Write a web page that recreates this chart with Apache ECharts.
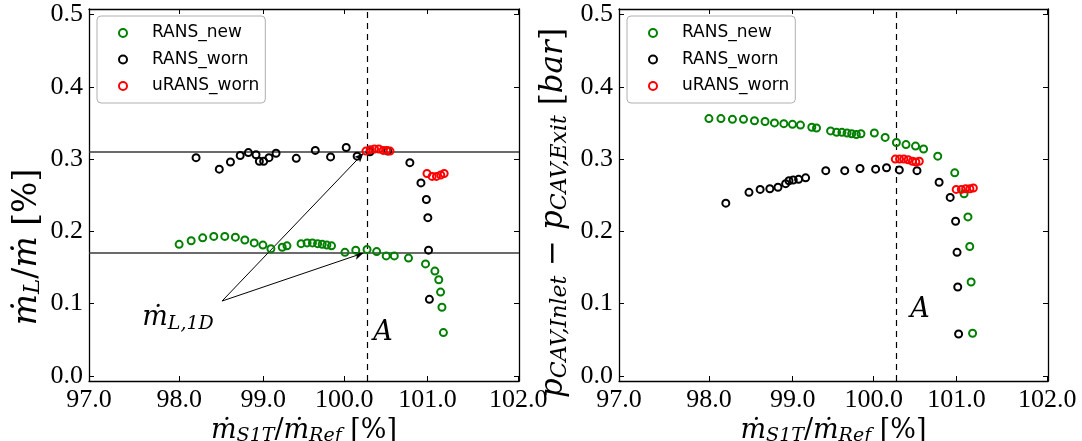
<!DOCTYPE html>
<html>
<head>
<meta charset="utf-8">
<script src="https://cdn.jsdelivr.net/npm/echarts@6/dist/echarts.min.js"></script>
<style>html,body{margin:0;padding:0;background:#fff}#c{width:1082px;height:441px}</style>
</head>
<body>
<div id="c"></div>
<script>
// ---- data ----
const seriesNames = ['RANS_new', 'RANS_worn', 'uRANS_worn'];
const xTickPos = [97.0, 98.05, 99.025, 99.968, 100.935, 101.99];
const xTickLabels = ['97.0', '98.0', '99.0', '100.0', '101.0', '102.0'];
const yTicks = [0.0, 0.1, 0.2, 0.3, 0.4, 0.5];

const greenX = [98.048, 98.188, 98.322, 98.451, 98.579, 98.702, 98.812, 98.921, 99.022, 99.115, 99.247, 99.302, 99.466, 99.536, 99.598, 99.658, 99.712, 99.766, 99.82, 99.976, 100.102, 100.233, 100.345, 100.456, 100.55, 100.715, 100.913, 101.022, 101.067, 101.088, 101.104, 101.121];
const greenLeak = [0.182, 0.187, 0.191, 0.193, 0.193, 0.192, 0.188, 0.184, 0.181, 0.176, 0.178, 0.180, 0.183, 0.184, 0.184, 0.183, 0.182, 0.181, 0.180, 0.171, 0.174, 0.175, 0.172, 0.166, 0.166, 0.163, 0.155, 0.145, 0.133, 0.116, 0.095, 0.060];
const greenDp = [0.356, 0.356, 0.355, 0.355, 0.353, 0.352, 0.350, 0.349, 0.348, 0.347, 0.344, 0.343, 0.339, 0.337, 0.337, 0.336, 0.335, 0.334, 0.335, 0.336, 0.330, 0.323, 0.320, 0.318, 0.314, 0.304, 0.281, 0.252, 0.220, 0.179, 0.130, 0.059];

const blackX = [98.245, 98.515, 98.645, 98.758, 98.853, 98.942, 98.981, 99.031, 99.093, 99.175, 99.41, 99.631, 99.809, 99.991, 100.118, 100.267, 100.473, 100.731, 100.86, 100.923, 100.94, 100.948, 100.958];
const blackLeak = [0.302, 0.286, 0.296, 0.305, 0.309, 0.306, 0.297, 0.297, 0.302, 0.308, 0.301, 0.312, 0.303, 0.316, 0.304, 0.310, 0.311, 0.295, 0.267, 0.244, 0.219, 0.174, 0.106];
const blackDp = [0.239, 0.254, 0.258, 0.259, 0.261, 0.266, 0.270, 0.271, 0.272, 0.274, 0.284, 0.284, 0.287, 0.286, 0.288, 0.285, 0.284, 0.268, 0.247, 0.214, 0.171, 0.123, 0.058];

const redX = [100.22, 100.27, 100.32, 100.37, 100.42, 100.46, 100.50, 100.93, 100.99, 101.04, 101.09, 101.13];
const redLeak = [0.311, 0.313, 0.314, 0.314, 0.312, 0.312, 0.311, 0.280, 0.276, 0.276, 0.278, 0.280];
const redDp = [0.300, 0.300, 0.300, 0.299, 0.297, 0.296, 0.297, 0.258, 0.258, 0.259, 0.259, 0.260];

const leak1D = [0.308, 0.170];          // horizontal reference lines (left)
const pointA = 100.233;                 // dashed vertical line "A"
const arrowFrom = [98.547, 0.1036];
const arrowTo = [[100.19, 0.308], [100.19, 0.170]];
const labelLeak1D = [98.035, 0.080];
const labelA_left = [100.419, 0.059];
const labelA_right = [100.508, 0.091];

// ---- styles ----
const colors = {RANS_new: '#008000', RANS_worn: '#000000', uRANS_worn: '#ff0000'};
const tickFont = 'Liberation Serif';
const mathFont = 'DejaVu Serif';
const xMin = 97, xMax = 102, yMin = -0.007, yMax = 0.5076;

function richMath(main, sub, subPad) {
  return {
    i: {fontFamily: mathFont, fontStyle: 'italic', fontSize: main, color: '#000'},
    n: {fontFamily: mathFont, fontSize: main, color: '#000'},
    s: {fontFamily: mathFont, fontStyle: 'italic', fontSize: sub, color: '#000', padding: [subPad, 0, 0, 0]}
  };
}

function xAxisCfg(gi, pos, withLabel) {
  return {
    type: 'value', gridIndex: gi, position: pos, min: xMin, max: xMax,
    axisLine: {show: true, onZero: false, lineStyle: {color: '#000', width: 1.3}},
    axisTick: {show: true, inside: true, length: 5, customValues: xTickPos, lineStyle: {color: '#000', width: 1}},
    axisLabel: {
      show: withLabel, customValues: xTickPos, margin: 6,
      fontFamily: tickFont, fontSize: 26, color: '#000',
      formatter: v => { const i = xTickPos.findIndex(p => Math.abs(p - v) < 1e-6); return i >= 0 ? xTickLabels[i] : ''; }
    },
    splitLine: {show: false},
    name: withLabel ? '{i|ṁ}{s|S1T}{n|/}{i|ṁ}{s|Ref}{n| [%]}' : '',
    nameLocation: 'middle', nameGap: 30,
    nameTextStyle: {rich: richMath(27, 19, 10)}
  };
}
function yAxisCfg(gi, pos, withLabel, name, nameGap, namePad, fs, sfs) {
  return {
    type: 'value', gridIndex: gi, position: pos, min: yMin, max: yMax,
    axisLine: {show: true, onZero: false, lineStyle: {color: '#000', width: 1.3}},
    axisTick: {show: true, inside: true, length: 5, customValues: yTicks, lineStyle: {color: '#000', width: 1}},
    axisLabel: {
      show: withLabel, customValues: yTicks, margin: 6,
      fontFamily: tickFont, fontSize: 26, color: '#000',
      formatter: v => v.toFixed(1)
    },
    splitLine: {show: false},
    name: withLabel ? name : '',
    nameLocation: 'middle', nameGap: nameGap,
    nameTextStyle: {rich: richMath(fs || 28, sfs || 20, 12), padding: namePad}
  };
}

function scatter(name, xs, ys, gi) {
  return {
    type: 'scatter', name: name, xAxisIndex: gi, yAxisIndex: gi,
    data: xs.map((x, k) => [x, ys[k]]),
    symbol: 'circle', symbolSize: 7, z: 5,
    itemStyle: {color: 'rgba(0,0,0,0)', borderColor: colors[name], borderWidth: 2, opacity: 1},
    emphasis: {disabled: true}, animation: false
  };
}

function legendCfg(left) {
  return {
    left: left, top: 16, orient: 'vertical', icon: 'circle',
    itemWidth: 8, itemHeight: 8, itemGap: 6.5,
    padding: [7, 6, 7, 21],
    borderColor: '#b0b0b0', borderWidth: 1, borderRadius: 4, backgroundColor: '#fff',
    selectedMode: false,
    data: seriesNames.map(n => ({name: n, itemStyle: {color: 'rgba(0,0,0,0)', borderColor: colors[n], borderWidth: 2}})),
    formatter: n => '{g| }' + n,
    textStyle: {fontFamily: 'DejaVu Sans', fontSize: 17, color: '#000', lineHeight: 20, rich: {g: {width: 20}}}
  };
}

const aLabel = {show: true, position: 'inside', formatter: 'A', fontFamily: mathFont, fontStyle: 'italic', fontSize: 27, color: '#000'};

const option = {
  animation: false,
  backgroundColor: '#fff',
  grid: [
    {left: 89, top: 9, width: 430, height: 372, outerBoundsMode: 'none', containLabel: false},
    {left: 619, top: 9, width: 429, height: 372, outerBoundsMode: 'none', containLabel: false}
  ],
  xAxis: [xAxisCfg(0, 'bottom', true), xAxisCfg(1, 'bottom', true), xAxisCfg(0, 'top', false), xAxisCfg(1, 'top', false)],
  yAxis: [
    yAxisCfg(0, 'left', true, '{i|ṁ}{s|L}{n|/}{i|ṁ}{n| [%]}', 44, [0, 104, 0, 0], 33, 23),
    yAxisCfg(1, 'left', true, '{i|p}{s|CAV,Inlet}{n| − }{i|p}{s|CAV,Exit}{n| [}{i|bar}{n|]}', 48, [0, 36, 0, 0], 31, 22),
    yAxisCfg(0, 'right', false, '', 0, 0), yAxisCfg(1, 'right', false, '', 0, 0)
  ],
  legend: [legendCfg(97), legendCfg(627)],
  series: [
    {
      type: 'scatter', name: 'annotLeft', xAxisIndex: 0, yAxisIndex: 0, data: [], z: 2, silent: true,
      markLine: {
        silent: true, animation: false, symbol: ['none', 'none'], label: {show: false},
        data: [
          {yAxis: leak1D[0], lineStyle: {color: '#3a3a3a', width: 1.5, type: 'solid'}},
          {yAxis: leak1D[1], lineStyle: {color: '#3a3a3a', width: 1.5, type: 'solid'}},
          {xAxis: pointA, lineStyle: {color: '#000', width: 1.2, type: [6, 5]}},
          [{coord: arrowFrom, symbol: 'none', lineStyle: {color: '#000', width: 1, type: 'solid'}}, {coord: arrowTo[0], symbol: 'arrow', symbolSize: [6, 9]}],
          [{coord: arrowFrom, symbol: 'none', lineStyle: {color: '#000', width: 1, type: 'solid'}}, {coord: arrowTo[1], symbol: 'arrow', symbolSize: [6, 9]}]
        ]
      },
      markPoint: {
        silent: true, animation: false, symbol: 'circle', symbolSize: 1, itemStyle: {color: 'rgba(0,0,0,0)'},
        data: [
          {coord: labelA_left, label: aLabel},
          {coord: labelLeak1D, label: {show: true, position: 'inside', formatter: '{i|ṁ}{s|L,1D}', rich: richMath(27, 19, 12)}}
        ]
      }
    },
    {
      type: 'scatter', name: 'annotRight', xAxisIndex: 1, yAxisIndex: 1, data: [], z: 2, silent: true,
      markLine: {
        silent: true, animation: false, symbol: ['none', 'none'], label: {show: false},
        data: [{xAxis: pointA, lineStyle: {color: '#000', width: 1.2, type: [6, 5]}}]
      },
      markPoint: {
        silent: true, animation: false, symbol: 'circle', symbolSize: 1, itemStyle: {color: 'rgba(0,0,0,0)'},
        data: [{coord: labelA_right, label: aLabel}]
      }
    },
    scatter('RANS_new', greenX, greenLeak, 0),
    scatter('RANS_worn', blackX, blackLeak, 0),
    scatter('uRANS_worn', redX, redLeak, 0),
    scatter('RANS_new', greenX, greenDp, 1),
    scatter('RANS_worn', blackX, blackDp, 1),
    scatter('uRANS_worn', redX, redDp, 1)
  ]
};
const chart = echarts.init(document.getElementById('c'), null, {renderer: 'canvas'});
chart.setOption(option);
</script>
</body>
</html>
